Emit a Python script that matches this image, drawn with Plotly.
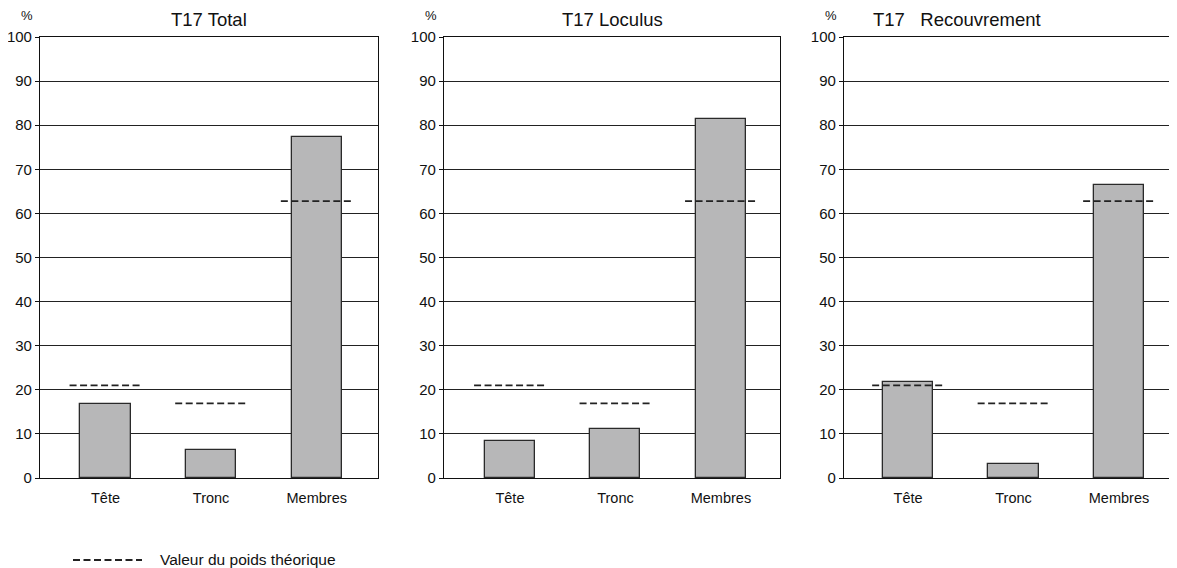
import plotly.graph_objects as go

categories = ["Tête", "Tronc", "Membres"]
titles = ["T17 Total", "T17 Loculus", "T17\u00a0\u00a0\u00a0Recouvrement"]
total_values = [16.8, 6.3, 77.3]
loculus_values = [8.4, 11.1, 81.4]
recouvrement_values = [21.7, 3.2, 66.4]
theoretical_values = [21.0, 16.9, 62.8]
legend_label = "Valeur du poids théorique"
y_ticks = [0, 10, 20, 30, 40, 50, 60, 70, 80, 90, 100]

series = [total_values, loculus_values, recouvrement_values]

# page body adds an 8px margin; size the figure so it fits the window
OFF = 8
W, H = 1177 - OFF, 568 - OFF
x_domains = [(40, 378), (444, 780), (844, 1177)]
x_ranges = [(-0.62, 2.58), (-0.625, 2.56), (-0.607, 2.55)]
title_centers = [209, 612, 957]
y_top, y_bot = 37, 478
font_family = "Liberation Sans, Arial, Helvetica, sans-serif"


def px_x(v):
    return (v - OFF) / W


def px_y(v):
    return 1 - (v - OFF) / H


fig = go.Figure()
xpos = list(range(len(categories)))
half = 0.34

for i, vals in enumerate(series):
    ax = "" if i == 0 else str(i + 1)
    fig.add_trace(go.Bar(
        x=xpos, y=vals, width=0.475,
        marker=dict(color="#b7b7b8", line=dict(color="#2a2a2a", width=1.3)),
        xaxis="x" + ax, yaxis="y" + ax, showlegend=False, hoverinfo="y",
    ))
    lx, ly = [], []
    for j, v in enumerate(theoretical_values):
        lx += [j - half, j + half, None]
        ly += [v, v, None]
    fig.add_trace(go.Scatter(
        x=lx, y=ly, mode="lines",
        line=dict(color="#222222", width=1.8, dash="7px,3.5px"),
        xaxis="x" + ax, yaxis="y" + ax, showlegend=False, hoverinfo="skip",
    ))

layout = dict(
    width=W, height=H, margin=dict(l=0, r=0, t=0, b=0, autoexpand=False),
    plot_bgcolor="white", paper_bgcolor="white",
    font=dict(family=font_family, size=15, color="#111111"),
    bargap=0,
)
annotations = []
for i in range(3):
    ax = "" if i == 0 else str(i + 1)
    x0, x1 = x_domains[i]
    last = i == 2
    layout["xaxis" + ax] = dict(
        domain=[px_x(x0), min(1.0, px_x(x1))], range=list(x_ranges[i]),
        tickvals=xpos, ticktext=categories, ticks="", ticklabelstandoff=6,
        showline=True, linecolor="#111111", linewidth=1.2, mirror=True,
        showgrid=False, zeroline=False, tickfont=dict(size=14.5),
        anchor="y" + ax, fixedrange=True, automargin=False,
    )
    layout["yaxis" + ax] = dict(
        domain=[px_y(y_bot), px_y(y_top)], range=[0, 100],
        tickvals=y_ticks, ticks="outside", ticklen=4, tickcolor="#111111",
        showline=True, linecolor="#111111", linewidth=1.2, mirror=not last,
        showgrid=True, gridcolor="#222222", gridwidth=1, zeroline=False,
        tickfont=dict(size=15), anchor="x" + ax, fixedrange=True, automargin=False,
    )
    annotations.append(dict(
        text=titles[i], x=px_x(title_centers[i]), y=px_y(19),
        xref="paper", yref="paper",
        xanchor="center", yanchor="middle", showarrow=False, font=dict(size=18.5),
    ))
    annotations.append(dict(
        text="%", x=px_x(x0 - 13), y=px_y(16), xref="paper", yref="paper",
        xanchor="center", yanchor="middle", showarrow=False, font=dict(size=13),
    ))

annotations.append(dict(
    text=legend_label, x=px_x(158), y=px_y(559), xref="paper", yref="paper",
    xanchor="left", yanchor="middle", showarrow=False, font=dict(size=15.5),
))
layout["annotations"] = annotations
layout["shapes"] = [dict(
    type="line", xref="paper", yref="paper",
    x0=px_x(73), x1=px_x(142), y0=px_y(560), y1=px_y(560),
    line=dict(color="#222222", width=1.8, dash="7px,3.5px"),
)]
fig.update_layout(**layout)
fig.write_html("out.html")
